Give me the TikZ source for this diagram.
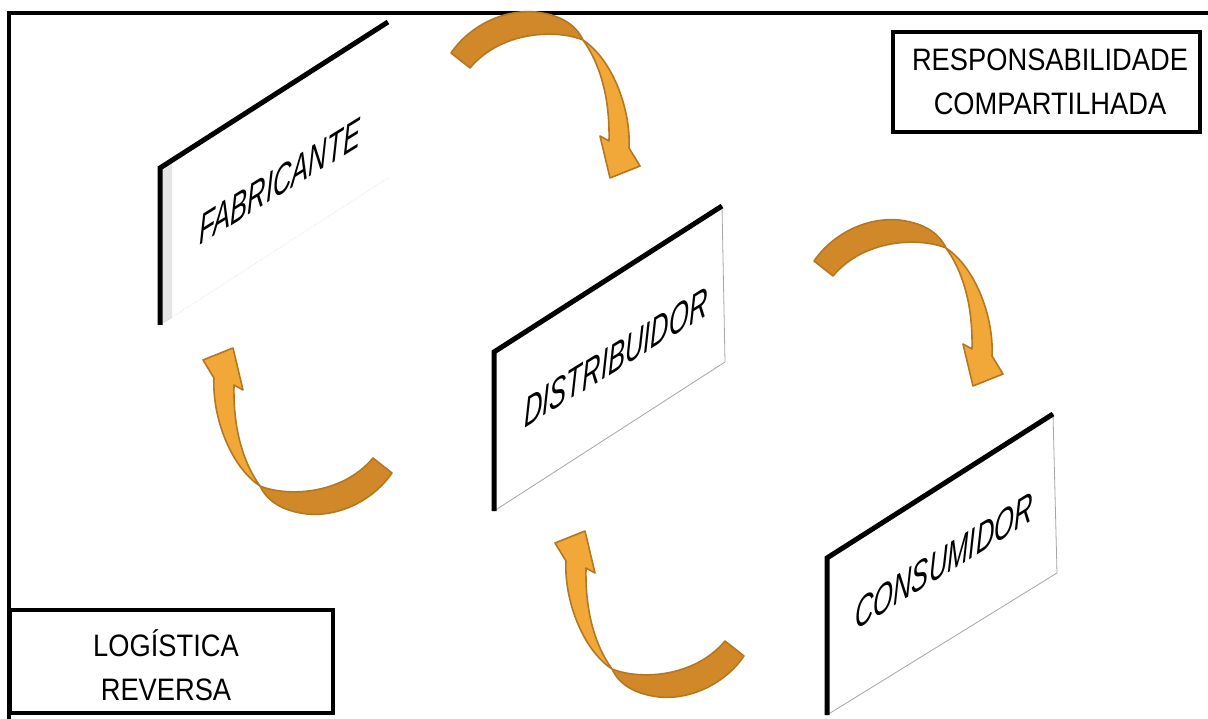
\documentclass[tikz,border=0pt]{standalone}
\usepackage{fontspec}
\setmainfont{Liberation Sans}
\newfontfamily\boxfont[FakeStretch=0.88]{Liberation Sans}
\definecolor{turndark}{RGB}{208,136,40}
\definecolor{turnlight}{RGB}{241,168,56}
\definecolor{turnline}{RGB}{180,120,34}
\tikzset{
  paneltext/.style={font=\fontsize{42}{42}\selectfont\itshape,yslant=0.62,xscale=0.61,transform shape,inner sep=0pt},
  labelbox/.style={draw,line width=3.5pt,inner sep=0pt},
  boxtext/.style={align=center,inner sep=0pt,anchor=south,font=\boxfont\fontsize{31}{44}\selectfont},
  thickedge/.style={line width=5pt,line join=miter},
  turnarrow/.pic={
    \filldraw[fill=turnlight,draw=turnline,line width=1.6pt,line join=round] (122,-20) .. controls (152,0) and (170,50) .. (168,88) -- (179,106) -- (149,118) -- (139,76) -- (148,81) .. controls (149,40) and (140,5) .. (122,-20) -- cycle;
    \filldraw[fill=turndark,draw=turnline,line width=1.6pt,line join=round] (-10,-7) .. controls (10,-36) and (45,-51) .. (75,-48) .. controls (100,-45) and (115,-35) .. (122,-20) .. controls (95,-31) and (40,-29) .. (9,8) -- cycle;
  }
}
\begin{document}
\begin{tikzpicture}[x=1pt,y=-1pt]
\useasboundingbox (0,0) rectangle (1208,719);
\fill[white] (0,0) rectangle (1208,719);
\draw[line width=4pt] (9,719) -- (9,13) -- (1208,13);

\fill[white] (160,168) -- (388,22) -- (388,178) -- (160,325) -- cycle;
\fill[gray!20] (160,170) -- (172,163) -- (172,318) -- (160,325) -- cycle;
\draw[gray!40,densely dotted] (160,325) -- (388,178);
\draw[thickedge] (160,325) -- (160,168) -- (388,22);
\node[paneltext] (fab) at (280,181) {FABRICANTE};

\draw[fill=white,draw=gray!70,line width=0.8pt] (494,352) -- (722,206) -- (725,362) -- (494,511) -- cycle;
\draw[thickedge] (494,511) -- (494,352) -- (722,206);
\node[paneltext] (dis) at (616,357) {DISTRIBUIDOR};

\draw[fill=white,draw=gray!70,line width=0.8pt] (827,558) -- (1053,414) -- (1057,573) -- (827,715) -- cycle;
\draw[thickedge] (827,715) -- (827,558) -- (1053,414);
\node[paneltext] (con) at (944,561) {CONSUMIDOR};

\pic at (461,60) {turnarrow};
\pic at (824,268) {turnarrow};
\pic[rotate=180] at (382,466) {turnarrow};
\pic[rotate=180] at (734,649) {turnarrow};

\node[labelbox,minimum width=307,minimum height=100] (resp) at (1046.5,82) {};
\node[boxtext] (resptext) at (1050,115) {RESPONSABILIDADE\\COMPARTILHADA};
\node[labelbox,minimum width=323,minimum height=103] (log) at (171.5,661.5) {};
\node[boxtext] (logtext) at (166,701) {LOGÍSTICA\\REVERSA};
\end{tikzpicture}
\end{document}
